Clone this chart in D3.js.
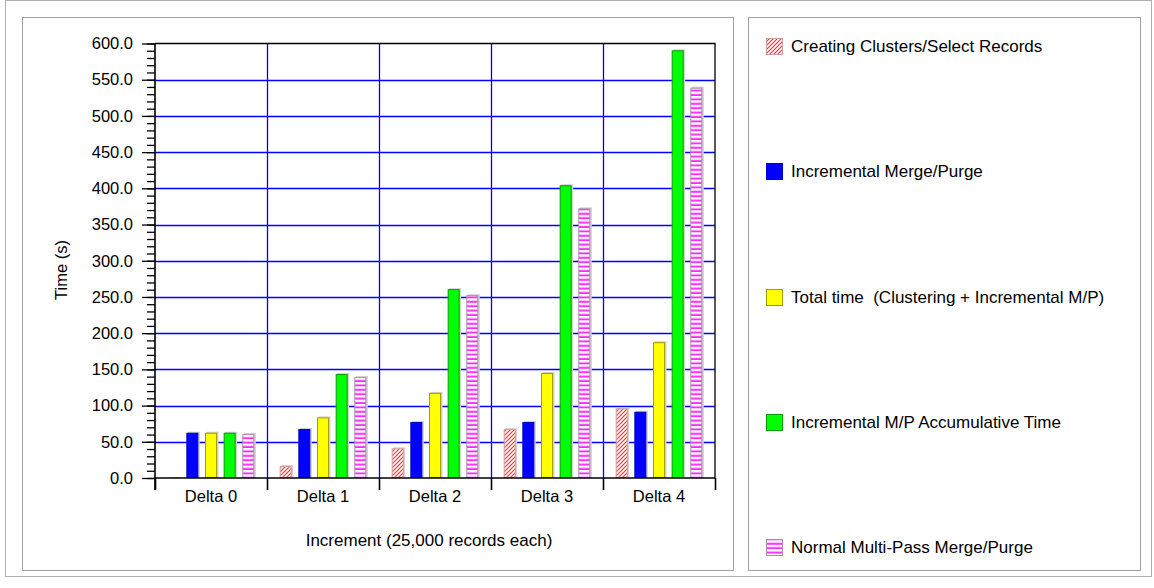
<!DOCTYPE html>
<html><head><meta charset="utf-8">
<script src="https://cdn.jsdelivr.net/npm/d3@7"></script>
<style>body{margin:0;background:#fff;}svg{display:block;font-family:"Liberation Sans",Arial,sans-serif;}text{white-space:pre;}</style>
</head><body><svg id="c" width="1154" height="588"></svg>
<script>
const categories = ["Delta 0","Delta 1","Delta 2","Delta 3","Delta 4"];
const seriesNames = ["Creating Clusters/Select Records","Incremental Merge/Purge","Total time  (Clustering + Incremental M/P)","Incremental M/P Accumulative Time","Normal Multi-Pass Merge/Purge"];
const creating = [0, 16.5, 41, 67.6, 96.2];
const incremental = [62.5, 67.6, 77.3, 77.3, 91.5];
const totalTime = [62.5, 83.7, 117.5, 145, 187.5];
const accumulative = [62.5, 143.5, 260.8, 404.3, 590.6];
const normal = [60.7, 139.4, 252.5, 372.3, 539];
const yTicks = [0,50,100,150,200,250,300,350,400,450,500,550,600];
const xTitle = "Increment (25,000 records each)";
const yTitle = "Time (s)";

const series = [creating, incremental, totalTime, accumulative, normal];
const fills = ["url(#hatch)","#0000ff","#ffff00","#00ff00","url(#stripes)"];
const strokes = ["#d0a0a0","#0000c0","#a0a000","#00a000","#a890a8"];
const FS = 16.5, FL = 17;

const svg = d3.select("#c");
const defs = svg.append("defs");
const h = defs.append("pattern").attr("id","hatch").attr("patternUnits","userSpaceOnUse").attr("width",4).attr("height",4);
h.append("rect").attr("width",4).attr("height",4).attr("fill","#fff");
h.append("path").attr("d","M-1,1 l2,-2 M0,4 l4,-4 M3,5 l2,-2").attr("stroke","#ff3030").attr("stroke-width",1.2);
const s = defs.append("pattern").attr("id","stripes").attr("patternUnits","userSpaceOnUse").attr("width",4).attr("height",4.4);
s.append("rect").attr("width",4).attr("height",4.4).attr("fill","#fff");
s.append("rect").attr("y",1.2).attr("width",4).attr("height",0.8).attr("fill","#ffa0ff");
s.append("rect").attr("y",2).attr("width",4).attr("height",1.4).attr("fill","#ff00ff");

svg.append("rect").attr("x",5.5).attr("y",0.5).attr("width",1146).attr("height",576).attr("fill","none").attr("stroke","#b0b0b0");
svg.append("rect").attr("x",22.5).attr("y",17.5).attr("width",711).attr("height",553).attr("fill","#fff").attr("stroke","#a0a0a0");
svg.append("rect").attr("x",748.5).attr("y",17.5).attr("width",392).attr("height",553).attr("fill","#fff").attr("stroke","#a0a0a0");

const L = 155, R = 715, T = 43.5, B = 478;
const x = d3.scaleBand().domain(categories).range([L,R]);
const y = d3.scaleLinear().domain([0,600]).range([B,T]);
const inner = d3.scaleBand().domain(d3.range(5)).range([0,x.bandwidth()]).paddingInner(0.357).paddingOuter(0.68);

const g = svg.append("g");
g.selectAll(".hg").data(yTicks.filter(v=>v>0 && v<600)).join("line")
  .attr("x1",L).attr("x2",R).attr("y1",d=>Math.round(y(d))+0.5).attr("y2",d=>Math.round(y(d))+0.5)
  .attr("stroke","#0000ff").attr("stroke-width",1.3);
g.selectAll(".vg").data(categories.slice(1)).join("line")
  .attr("x1",d=>Math.round(x(d))+0.5).attr("x2",d=>Math.round(x(d))+0.5).attr("y1",T).attr("y2",B)
  .attr("stroke","#0000ff").attr("stroke-width",1.3);
g.append("path").attr("d",`M${L},${T} H${R} V${B}`).attr("fill","none").attr("stroke","#000").attr("stroke-width",1.3);

categories.forEach((c,ci)=>{
  series.forEach((arr,si)=>{
    const bx = x(c)+inner(si), bw = inner.bandwidth(), by = y(arr[ci]), bh = B - y(arr[ci]);
    g.append("rect").attr("x",bx+1.5).attr("y",by-1).attr("width",bw).attr("height",bh+1).attr("fill","#d0d0d0");
    if (bh > 0) g.append("rect").attr("x",bx+0.5).attr("y",by+0.5).attr("width",bw-1).attr("height",bh-1)
      .attr("fill",fills[si]).attr("stroke",strokes[si]).attr("stroke-width",1);
  });
});

const yMinor = d3.range(0,601,10);
g.append("g").attr("transform",`translate(${L},0)`)
  .call(d3.axisLeft(y).tickValues(yMinor).tickSize(8).tickFormat(""))
  .call(a=>{a.select(".domain").remove(); a.selectAll("line").attr("stroke","#000").attr("stroke-width",1.3);});
g.append("g").attr("transform",`translate(${L},0)`)
  .call(d3.axisLeft(y).tickValues(yTicks).tickSize(13).tickPadding(9).tickFormat(d3.format(".1f")))
  .call(a=>{a.select(".domain").attr("stroke","#000").attr("stroke-width",1.6).attr("d",`M0,${T}V${B+12}`);
    a.selectAll("line").attr("stroke","#000").attr("stroke-width",1.3);
    a.selectAll("text").attr("font-size",FS).attr("fill","#000").attr("font-family","Liberation Sans, Arial, sans-serif");});

const xa = g.append("g").attr("transform",`translate(0,${B})`)
  .call(d3.axisBottom(x).tickSize(0).tickPadding(12))
  .call(a=>{a.select(".domain").attr("stroke","#000").attr("stroke-width",1.6).attr("d",`M${L},0H${R}`);
    a.selectAll("text").attr("font-size",FS).attr("fill","#000").attr("font-family","Liberation Sans, Arial, sans-serif");});
xa.selectAll(".bt").data(categories.concat(["end"])).join("line")
  .attr("x1",(d,i)=>Math.round(i<5?x(d):R)+0.5).attr("x2",(d,i)=>Math.round(i<5?x(d):R)+0.5)
  .attr("y1",0).attr("y2",12).attr("stroke","#000").attr("stroke-width",1.6);

svg.append("text").attr("x",(L+R)/2-6).attr("y",546).attr("text-anchor","middle").attr("font-size",FL).text(xTitle);
svg.append("text").attr("transform","translate(67,270) rotate(-90)").attr("text-anchor","middle").attr("font-size",FS).text(yTitle);

const ly = [46,171,297,422,547];
const lg = svg.append("g");
seriesNames.forEach((n,i)=>{
  lg.append("rect").attr("x",766.5).attr("y",ly[i]-7.5).attr("width",16).attr("height",16)
    .attr("fill",fills[i]).attr("stroke",strokes[i]);
  lg.append("text").attr("x",791).attr("y",ly[i]+6).attr("font-size",FL).attr("fill","#000").text(n);
});
</script></body></html>
